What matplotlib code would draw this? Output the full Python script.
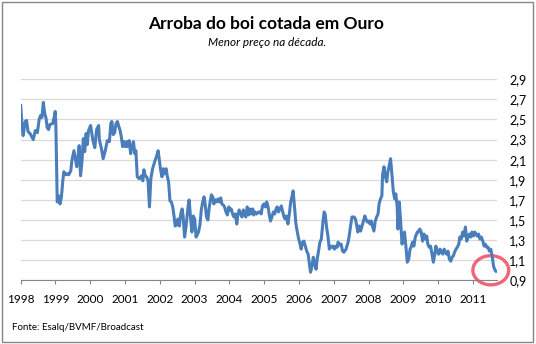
import matplotlib.pyplot as plt
from matplotlib.patches import Ellipse, Rectangle

# arroba do boi em gramas de ouro (ano decimal, valor)
anos = [1998.00, 1998.04, 1998.07, 1998.13, 1998.17, 1998.21, 1998.27, 1998.30, 1998.36, 1998.42,
        1998.48, 1998.53, 1998.57, 1998.61, 1998.65, 1998.69, 1998.73, 1998.76, 1998.80, 1998.84,
        1998.92, 1998.98, 1998.99, 1999.01, 1999.05, 1999.09, 1999.13, 1999.17, 1999.21, 1999.24,
        1999.30, 1999.34, 1999.38, 1999.44, 1999.47, 1999.53, 1999.57, 1999.61, 1999.65, 1999.68,
        1999.72, 1999.76, 1999.80, 1999.84, 1999.88, 1999.91, 1999.95, 2000.01, 2000.07, 2000.13,
        2000.18, 2000.24, 2000.26, 2000.32, 2000.37, 2000.43, 2000.49, 2000.55, 2000.59, 2000.62,
        2000.66, 2000.70, 2000.74, 2000.78, 2000.82, 2000.85, 2000.89, 2000.93, 2000.97, 2001.01,
        2001.05, 2001.08, 2001.12, 2001.16, 2001.20, 2001.24, 2001.28, 2001.31, 2001.35, 2001.41,
        2001.47, 2001.51, 2001.54, 2001.58, 2001.62, 2001.66, 2001.70, 2001.74, 2001.79, 2001.85,
        2001.91, 2001.95, 2001.98, 2002.02, 2002.06, 2002.10, 2002.14, 2002.18, 2002.21, 2002.25,
        2002.29, 2002.33, 2002.37, 2002.41, 2002.44, 2002.48, 2002.52, 2002.56, 2002.60, 2002.64,
        2002.67, 2002.71, 2002.75, 2002.81, 2002.84, 2002.89, 2002.92, 2002.96, 2003.00, 2003.04,
        2003.07, 2003.11, 2003.15, 2003.19, 2003.23, 2003.27, 2003.30, 2003.34, 2003.38, 2003.42,
        2003.48, 2003.52, 2003.55, 2003.59, 2003.63, 2003.67, 2003.71, 2003.75, 2003.78, 2003.82,
        2003.86, 2003.90, 2003.94, 2003.98, 2004.01, 2004.05, 2004.09, 2004.13, 2004.17, 2004.21,
        2004.24, 2004.28, 2004.32, 2004.36, 2004.40, 2004.44, 2004.47, 2004.51, 2004.55, 2004.59,
        2004.63, 2004.67, 2004.70, 2004.74, 2004.78, 2004.84, 2004.88, 2004.91, 2004.95, 2004.99,
        2005.03, 2005.07, 2005.11, 2005.14, 2005.18, 2005.22, 2005.26, 2005.30, 2005.34, 2005.37,
        2005.41, 2005.45, 2005.49, 2005.53, 2005.57, 2005.60, 2005.64, 2005.68, 2005.72, 2005.76,
        2005.80, 2005.83, 2005.87, 2005.91, 2005.95, 2005.99, 2006.03, 2006.06, 2006.10, 2006.14,
        2006.18, 2006.22, 2006.26, 2006.29, 2006.33, 2006.37, 2006.41, 2006.45, 2006.49, 2006.52,
        2006.56, 2006.60, 2006.64, 2006.68, 2006.72, 2006.75, 2006.79, 2006.83, 2006.87, 2006.91,
        2006.95, 2006.98, 2007.02, 2007.06, 2007.10, 2007.12, 2007.18, 2007.21, 2007.25, 2007.29,
        2007.35, 2007.41, 2007.44, 2007.48, 2007.52, 2007.58, 2007.62, 2007.66, 2007.69, 2007.73,
        2007.77, 2007.81, 2007.85, 2007.89, 2007.92, 2007.96, 2008.00, 2008.04, 2008.07, 2008.11,
        2008.15, 2008.19, 2008.23, 2008.27, 2008.30, 2008.34, 2008.38, 2008.40, 2008.44, 2008.48,
        2008.52, 2008.55, 2008.59, 2008.63, 2008.67, 2008.71, 2008.75, 2008.78, 2008.82, 2008.84,
        2008.88, 2008.92, 2008.96, 2008.99, 2009.03, 2009.07, 2009.11, 2009.15, 2009.19, 2009.22,
        2009.26, 2009.30, 2009.34, 2009.40, 2009.42, 2009.47, 2009.51, 2009.55, 2009.59, 2009.63,
        2009.67, 2009.70, 2009.74, 2009.78, 2009.82, 2009.86, 2009.90, 2009.93, 2009.97, 2010.01,
        2010.05, 2010.09, 2010.13, 2010.17, 2010.20, 2010.24, 2010.28, 2010.32, 2010.36, 2010.40,
        2010.43, 2010.47, 2010.51, 2010.55, 2010.59, 2010.62, 2010.66, 2010.70, 2010.74, 2010.78,
        2010.82, 2010.86, 2010.89, 2010.93, 2010.97, 2011.01, 2011.05, 2011.09, 2011.12, 2011.16,
        2011.20, 2011.24, 2011.28, 2011.32, 2011.35, 2011.39, 2011.43, 2011.47, 2011.51, 2011.55,
        2011.59, 2011.63, 2011.66]

valores = [2.64, 2.43, 2.34, 2.48, 2.49, 2.38, 2.36, 2.34, 2.30, 2.39,
           2.37, 2.50, 2.54, 2.52, 2.67, 2.56, 2.51, 2.42, 2.40, 2.45,
           2.46, 2.55, 2.58, 2.45, 1.68, 1.74, 1.66, 1.73, 1.89, 1.98,
           1.95, 1.96, 1.95, 1.99, 2.09, 2.19, 2.11, 2.03, 2.14, 2.24,
           1.94, 2.08, 2.31, 2.18, 2.36, 2.25, 2.39, 2.44, 2.30, 2.22,
           2.40, 2.44, 2.30, 2.21, 2.11, 2.19, 2.29, 2.28, 2.46, 2.48,
           2.35, 2.37, 2.46, 2.48, 2.43, 2.40, 2.33, 2.23, 2.28, 2.23,
           2.28, 2.23, 2.29, 2.16, 2.23, 2.28, 2.16, 2.19, 1.93, 1.91,
           1.94, 1.89, 2.00, 1.94, 1.93, 1.89, 1.63, 1.91, 2.01, 2.08,
           2.14, 2.19, 2.11, 2.00, 1.93, 2.01, 1.96, 2.01, 1.94, 1.88,
           1.69, 1.68, 1.63, 1.53, 1.44, 1.45, 1.51, 1.44, 1.56, 1.61,
           1.53, 1.33, 1.43, 1.63, 1.70, 1.49, 1.38, 1.54, 1.51, 1.33,
           1.35, 1.38, 1.45, 1.60, 1.68, 1.73, 1.66, 1.53, 1.50, 1.63,
           1.75, 1.73, 1.66, 1.70, 1.68, 1.71, 1.68, 1.72, 1.66, 1.65,
           1.63, 1.58, 1.55, 1.63, 1.60, 1.61, 1.56, 1.53, 1.56, 1.46,
           1.55, 1.60, 1.56, 1.53, 1.60, 1.56, 1.53, 1.63, 1.55, 1.61,
           1.56, 1.61, 1.55, 1.58, 1.56, 1.58, 1.58, 1.56, 1.64, 1.66,
           1.63, 1.68, 1.63, 1.56, 1.49, 1.53, 1.58, 1.56, 1.61, 1.63,
           1.58, 1.61, 1.64, 1.58, 1.53, 1.51, 1.54, 1.46, 1.56, 1.68,
           1.74, 1.79, 1.63, 1.46, 1.38, 1.31, 1.26, 1.21, 1.28, 1.29,
           1.24, 1.19, 1.16, 1.08, 0.98, 1.04, 1.13, 1.06, 1.01, 1.11,
           1.19, 1.28, 1.31, 1.46, 1.58, 1.56, 1.43, 1.34, 1.21, 1.24,
           1.23, 1.24, 1.21, 1.24, 1.23, 1.28, 1.25, 1.26, 1.19, 1.18,
           1.21, 1.28, 1.34, 1.44, 1.53, 1.53, 1.51, 1.44, 1.38, 1.44,
           1.39, 1.44, 1.49, 1.54, 1.51, 1.48, 1.49, 1.46, 1.49, 1.44,
           1.39, 1.49, 1.53, 1.56, 1.66, 1.71, 1.74, 1.95, 2.03, 1.93,
           1.88, 1.98, 2.04, 2.11, 1.95, 1.78, 1.71, 1.76, 1.63, 1.41,
           1.68, 1.48, 1.26, 1.33, 1.38, 1.24, 1.08, 1.11, 1.21, 1.23,
           1.28, 1.24, 1.33, 1.38, 1.38, 1.41, 1.38, 1.29, 1.36, 1.31,
           1.34, 1.26, 1.23, 1.24, 1.16, 1.08, 1.16, 1.24, 1.19, 1.16,
           1.21, 1.18, 1.16, 1.21, 1.18, 1.16, 1.19, 1.11, 1.09, 1.13,
           1.14, 1.18, 1.21, 1.23, 1.26, 1.33, 1.31, 1.38, 1.34, 1.43,
           1.29, 1.34, 1.36, 1.33, 1.38, 1.34, 1.38, 1.36, 1.34, 1.36,
           1.31, 1.33, 1.29, 1.24, 1.26, 1.23, 1.23, 1.19, 1.21, 1.14,
           1.04, 1.00, 0.99]

anos_eixo = list(range(1998, 2012))
yticks = [0.9, 1.1, 1.3, 1.5, 1.7, 1.9, 2.1, 2.3, 2.5, 2.7, 2.9]

plt.rcParams['font.family'] = ['Lato', 'DejaVu Sans']

fig = plt.figure(figsize=(5.36, 3.44), dpi=100)
ax = fig.add_axes([20.7 / 536, 63.7 / 344, 476 / 536, 201 / 344])

ax.plot(anos, valores, color='#4A7EBB', lw=2.2, solid_joinstyle='round')

ax.set_xlim(1998.0, 2011.68)
ax.set_ylim(0.9, 2.9)

ax.set_yticks(yticks)
ax.set_yticklabels([('%.1f' % v).replace('.', ',') for v in yticks])
ax.yaxis.tick_right()
ax.tick_params(axis='y', length=0, pad=9, labelsize=9, labelcolor='#000000')
ax.grid(axis='y', color='#D9D9D9', lw=0.9)
ax.set_axisbelow(True)

ax.set_xticks(anos_eixo)
ax.set_xticklabels([str(a) for a in anos_eixo])
ax.tick_params(axis='x', length=3, width=0.8, color='#868686', pad=7, labelsize=8.5)

for s in ['left', 'right', 'top']:
    ax.spines[s].set_visible(False)
ax.spines['bottom'].set_color('#868686')
ax.spines['bottom'].set_linewidth(0.8)

# circulo vermelho no ultimo valor
circ = Ellipse((anos[-1] - 0.15, valores[-1] + 0.01), 1.03, 0.29,
               fill=False, edgecolor='#F04A5E', lw=2.4, alpha=0.85, clip_on=False)
ax.add_patch(circ)

fig.text(266 / 536, 1 - 24 / 344, 'Arroba do boi cotada em Ouro', ha='center', va='center',
         fontsize=12.5, fontweight='bold')
fig.text(267 / 536, 1 - 42 / 344, 'Menor preço na década.', ha='center', va='center',
         fontsize=8.5, style='italic')
fig.text(12 / 536, 1 - 328 / 344, 'Fonte: Esalq/BVMF/Broadcast', ha='left', va='center',
         fontsize=7)

fig.patches.append(Rectangle((1.5 / 536, 2.5 / 344), 531.5 / 536, 339.5 / 344,
                             transform=fig.transFigure, fill=False, edgecolor='#868686', lw=1))

fig.savefig('out.png', dpi=100)
